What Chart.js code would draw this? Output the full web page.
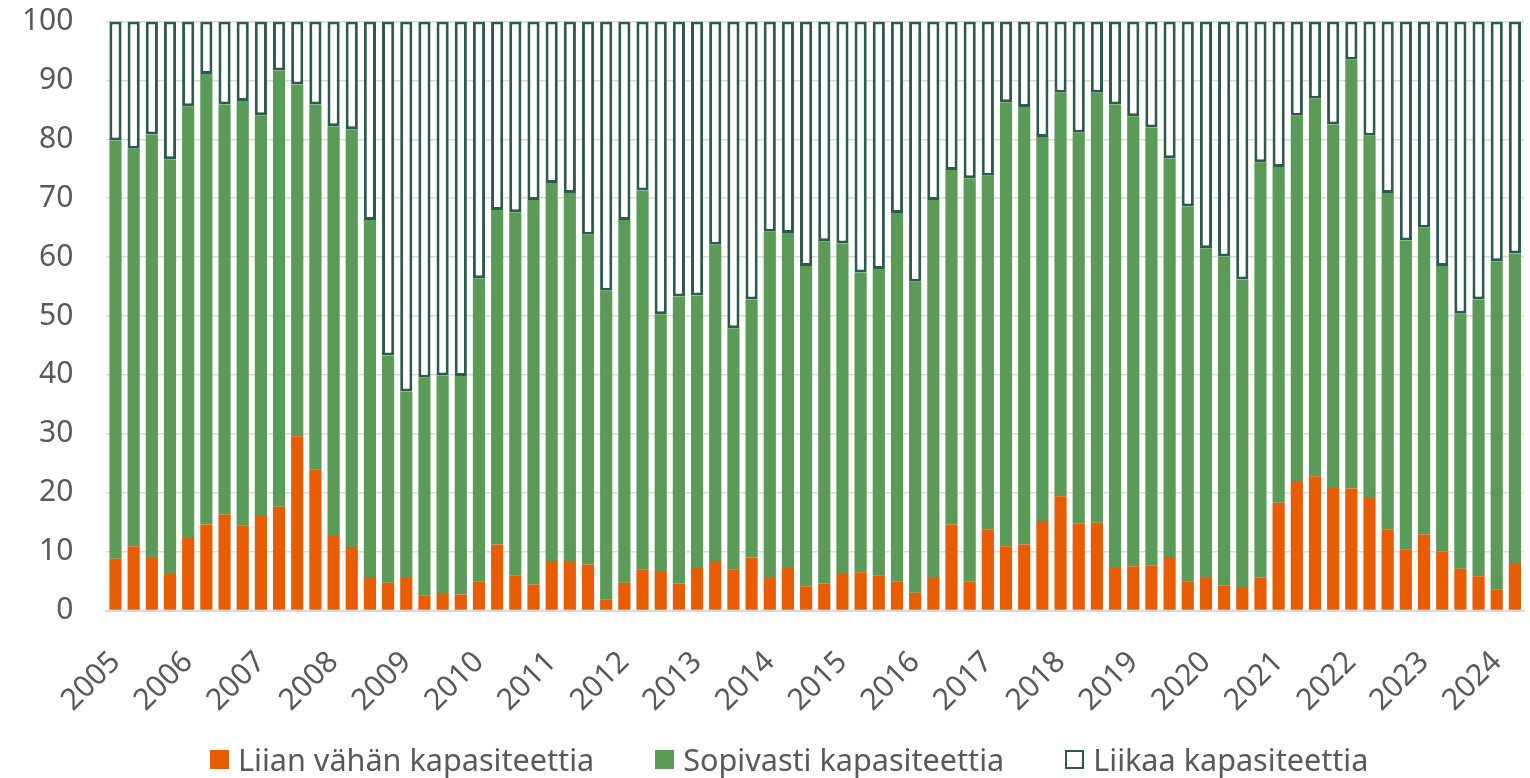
<!DOCTYPE html>
<html>
<head>
<meta charset="utf-8">
<script src="https://cdn.jsdelivr.net/npm/chart.js@4/dist/chart.umd.min.js"></script>
<style>
  body { margin: 0; background: #fff; font-family: "Noto Sans", sans-serif; }
  .wrap { position: relative; width: 1530px; height: 778px; }
  #chart { position: absolute; left: 0; top: 0; }
  .legend { position: absolute; left: 210px; top: 740px; height: 38px; display: flex; align-items: center; color: #595959; font-size: 30.6px; white-space: nowrap; }
  .item { display: flex; align-items: center; margin-right: 61px; }
  .box { width: 19px; height: 19px; margin-right: 9px; box-sizing: border-box; }
</style>
</head>
<body>
<div class="wrap">
  <canvas id="chart" width="1530" height="778"></canvas>
  <div class="legend">
    <div class="item"><span class="box" style="background:#E85D04"></span>Liian vähän kapasiteettia</div>
    <div class="item"><span class="box" style="background:#5A9B58"></span>Sopivasti kapasiteettia</div>
    <div class="item"><span class="box" style="background:#fff;border:2px solid #2C5A4C"></span>Liikaa kapasiteettia</div>
  </div>
</div>
<script>
// vuodet (joka neljäs neljännes saa nimen)
const years = ["2005", "2006", "2007", "2008", "2009", "2010", "2011", "2012", "2013", "2014",
  "2015", "2016", "2017", "2018", "2019", "2020", "2021", "2022", "2023", "2024"];

const liianVahan = [
  8.8, 10.9, 8.9, 6.2, 12.3, 14.6, 16.3, 14.4, 16.2, 17.6, 29.6, 23.9, 12.8, 10.8, 5.7, 4.7, 5.5, 2.5, 2.8, 2.7,
  4.9, 11.2, 5.9, 4.4, 8.4, 8.4, 7.8, 1.9, 4.7, 6.9, 6.7, 4.6, 7.2, 8.4, 7.0, 9.0, 5.5, 7.2, 4.1, 4.6,
  6.2, 6.5, 6.0, 4.9, 3.0, 5.5, 14.6, 4.9, 13.7, 10.9, 11.2, 15.2, 19.4, 14.8, 14.9, 7.4, 7.5, 7.6, 9.1, 4.9,
  5.5, 4.2, 4.0, 5.6, 18.3, 22.0, 22.8, 20.8, 20.7, 19.1, 13.7, 10.3, 12.9, 10.0, 7.1, 5.8, 3.6, 7.9
];

const sopivasti = [
  71.0, 67.5, 71.9, 70.4, 73.3, 76.5, 69.6, 72.1, 67.9, 74.1, 59.7, 62.0, 69.4, 70.9, 60.6, 38.6, 31.7, 37.0, 37.1, 37.1,
  51.5, 56.8, 61.7, 65.3, 64.2, 62.5, 56.0, 52.4, 61.6, 64.4, 43.6, 48.7, 46.3, 53.7, 40.9, 43.8, 58.8, 56.9, 54.4, 58.1,
  56.1, 50.9, 52.0, 62.6, 52.8, 64.2, 60.2, 68.5, 60.1, 75.4, 74.3, 65.2, 68.5, 66.3, 73.0, 78.5, 76.4, 74.4, 67.7, 63.7,
  56.0, 55.9, 52.2, 70.5, 57.0, 62.0, 64.1, 61.7, 72.8, 61.5, 57.2, 52.5, 52.1, 48.5, 43.3, 47.0, 55.7, 52.7
];

const liikaa = [
  20.2, 21.6, 19.2, 23.4, 14.4, 8.9, 14.1, 13.5, 15.9, 8.3, 10.7, 14.1, 17.8, 18.3, 33.7, 56.7, 62.8, 60.5, 60.1, 60.2,
  43.6, 32.0, 32.4, 30.3, 27.4, 29.1, 36.2, 45.7, 33.7, 28.7, 49.7, 46.7, 46.5, 37.9, 52.1, 47.2, 35.7, 35.9, 41.5, 37.3,
  37.7, 42.6, 42.0, 32.5, 44.2, 30.3, 25.2, 26.6, 26.2, 13.7, 14.5, 19.6, 12.1, 18.9, 12.1, 14.1, 16.1, 18.0, 23.2, 31.4,
  38.5, 39.9, 43.8, 23.9, 24.7, 16.0, 13.1, 17.5, 6.5, 19.4, 29.1, 37.2, 35.0, 41.5, 49.6, 47.2, 40.7, 39.4
];

// neljännekset: vuosi ensimmäiselle, muut tyhjiä
const labels = years.flatMap((y) => [y, "", "", ""]).slice(0, liianVahan.length);

const grey = "#595959";
const ctx = document.getElementById("chart");

new Chart(ctx, {
  type: "bar",
  data: {
    labels: labels,
    datasets: [
      { label: "Liian vähän kapasiteettia", data: liianVahan, backgroundColor: "#E85D04", borderWidth: 0 },
      { label: "Sopivasti kapasiteettia", data: sopivasti, backgroundColor: "#5A9B58", borderWidth: 0 },
      {
        label: "Liikaa kapasiteettia",
        data: liikaa,
        backgroundColor: "#ffffff",
        borderColor: "#2C5A4C",
        borderWidth: 3,
        borderSkipped: false,
      },
    ],
  },
  options: {
    responsive: false,
    animation: false,
    datasets: { bar: { categoryPercentage: 1, barPercentage: 0.67 } },
    layout: { padding: { left: 0, right: 6, top: 21.5, bottom: 0 } },
    plugins: { legend: { display: false }, tooltip: { enabled: false } },
    scales: {
      x: {
        stacked: true,
        grid: { display: false },
        border: { color: "#d9d9d9", width: 2 },
        ticks: {
          autoSkip: false,
          minRotation: 45,
          maxRotation: 45,
          padding: 26,
          color: grey,
          font: { family: "Noto Sans", size: 30 },
        },
        afterFit: (scale) => {
          scale.height = 778 - 610.5;
          scale.paddingLeft = 0;
          scale.paddingRight = 0;
        },
      },
      y: {
        stacked: true,
        min: 0,
        max: 100,
        grid: { color: "#d9d9d9", lineWidth: 1.5, drawTicks: false },
        border: { display: false },
        ticks: {
          stepSize: 10,
          padding: 33,
          color: grey,
          font: { family: "Noto Sans", size: 30 },
        },
        afterFit: (scale) => {
          scale.width = 106.4;
          scale.paddingTop = 0;
          scale.paddingBottom = 0;
        },
      },
    },
  },
});
</script>
</body>
</html>
